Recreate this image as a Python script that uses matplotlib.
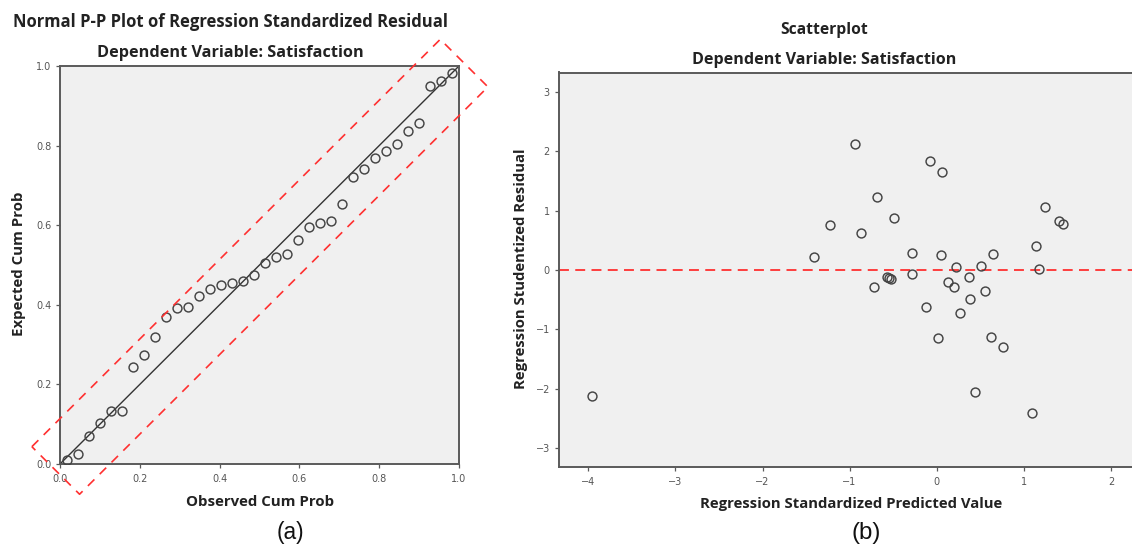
import matplotlib
matplotlib.use("Agg")
import matplotlib.pyplot as plt
import numpy as np

# ---------------- data ----------------
pp_observed = [0.017, 0.044, 0.073, 0.099, 0.128, 0.155, 0.183, 0.211, 0.238, 0.266,
               0.293, 0.321, 0.348, 0.376, 0.404, 0.431, 0.459, 0.486, 0.514, 0.541,
               0.569, 0.596, 0.624, 0.652, 0.679, 0.707, 0.734, 0.762, 0.789, 0.817,
               0.845, 0.872, 0.900, 0.927, 0.955, 0.982]
pp_expected = [0.009, 0.026, 0.070, 0.103, 0.134, 0.134, 0.243, 0.273, 0.318, 0.370,
               0.391, 0.394, 0.422, 0.440, 0.449, 0.454, 0.459, 0.474, 0.505, 0.521,
               0.528, 0.562, 0.596, 0.606, 0.610, 0.654, 0.721, 0.740, 0.770, 0.786,
               0.803, 0.836, 0.858, 0.949, 0.962, 0.982]

sc_predicted = [-0.935, -0.080, 0.057, -0.682, 1.243, -0.487, -1.225, -0.866, 1.408, 1.453,
                1.137, -1.405, -0.284, 0.049, 0.643, 0.218, 0.509, 1.175, -0.287, -0.567,
                -0.544, -0.521, 0.367, -0.716, 0.133, 0.195, 0.558, 0.379, -0.123, 0.264,
                0.015, 0.624, 0.765, 0.440, 1.094, -3.958]
sc_residual = [2.130, 1.843, 1.653, 1.236, 1.057, 0.877, 0.754, 0.624, 0.831, 0.771,
               0.410, 0.219, 0.282, 0.258, 0.275, 0.056, 0.073, 0.012, -0.067, -0.113,
               -0.135, -0.157, -0.118, -0.287, -0.207, -0.282, -0.349, -0.484, -0.619, -0.720,
               -1.152, -1.125, -1.304, -2.057, -2.406, -2.125]

pp_ticks = [0.0, 0.2, 0.4, 0.6, 0.8, 1.0]
pp_ticklabels = ["0.0", "0.2", "0.4", "0.6", "0.8", "1.0"]
sc_xticks = [-4, -3, -2, -1, 0, 1, 2]
sc_yticks = [-3, -2, -1, 0, 1, 2, 3]

# annotation band (offsets of y-x, and extent along x+y)
band_offsets = (-0.125, 0.114)
band_ends = (-0.027, 2.02)

# ---------------- style ----------------
W, H = 1132, 545
fig = plt.figure(figsize=(W / 100, H / 100), dpi=100)
BG = "#f0f0f0"
SPINE = "#5a5a5a"
TICKC = "#555555"
MARK = "#444444"
RED = "#ff3030"
TXT = "#222222"
BOLD_FONT = ["Open Sans", "DejaVu Sans"]


def px_axes(l, t, r, b):
    return fig.add_axes([l / W, 1 - b / H, (r - l) / W, (b - t) / H])


def style_axes(ax):
    ax.set_facecolor(BG)
    for s in ax.spines.values():
        s.set_color(SPINE)
        s.set_linewidth(1.4)
    ax.tick_params(direction="out", length=3.2, width=0.9, color=SPINE,
                   labelsize=7, labelcolor=TICKC, pad=3)


# ---------------- left: P-P plot ----------------
ax1 = px_axes(60, 66, 459, 464)
style_axes(ax1)
ax1.set_xlim(0, 1)
ax1.set_ylim(0, 1)
ax1.set_xticks(pp_ticks)
ax1.set_xticklabels(pp_ticklabels)
ax1.set_yticks(pp_ticks)
ax1.set_yticklabels(pp_ticklabels)
ax1.tick_params(axis="x", pad=4)
ax1.plot([0, 1], [0, 1], color="#333333", lw=1.0, zorder=2)
ax1.plot(pp_observed, pp_expected, linestyle="none", marker="o", ms=6.4,
         mfc="none", mec=MARK, mew=1.05, zorder=3)

d_lo, d_hi = band_offsets
s_lo, s_hi = band_ends
corner_pts = [((s - d) / 2, (s + d) / 2) for s, d in
              [(s_lo, d_hi), (s_hi, d_hi), (s_hi, d_lo), (s_lo, d_lo), (s_lo, d_hi)]]
bx = [p[0] for p in corner_pts]
by = [p[1] for p in corner_pts]
ax1.plot(bx, by, color=RED, lw=1.2, dashes=(5.5, 4.5), clip_on=False, zorder=5)

# ---------------- right: scatterplot ----------------
ax2 = px_axes(558.5, 72.5, W, 467.3)
style_axes(ax2)
ax2.spines["right"].set_visible(False)
x0_px, ux = 936.7, 87.1
y0_px, uy = 270.0, 59.3
ax2.set_xlim((558.5 - x0_px) / ux, (W - x0_px) / ux)
ax2.set_ylim((y0_px - 467.3) / uy, (y0_px - 72.5) / uy)
ax2.set_xticks(sc_xticks)
ax2.set_yticks(sc_yticks)
ax2.tick_params(axis="x", pad=4)
ax2.axhline(0, color=RED, lw=1.3, dashes=(5.5, 3.5), zorder=2)
ax2.plot(sc_predicted, sc_residual, linestyle="none", marker="o", ms=6.4,
         mfc="none", mec=MARK, mew=1.05, zorder=3)

# ---------------- texts fitted to widths ----------------
renderer = fig.canvas.get_renderer()


def fit_text(s, cx, cy, target, rotation=0, weight="bold", family=BOLD_FONT,
             color=TXT, base=10):
    t = fig.text(cx / W, 1 - cy / H, s, ha="center", va="center", rotation=rotation,
                 fontsize=base, fontweight=weight, family=family, color=color)
    bb = t.get_window_extent(renderer)
    size = bb.height if rotation else bb.width
    t.set_fontsize(base * target / size)
    return t


fit_text("Normal P-P Plot of Regression Standardized Residual", 230.5, 22, 435)
fit_text("Dependent Variable: Satisfaction", 230, 53, 266)
fit_text("Observed Cum Prob", 260, 502, 149)
fit_text("Expected Cum Prob", 19, 264, 145, rotation=90)

fit_text("Scatterplot", 824.5, 30.5, 88)
fit_text("Dependent Variable: Satisfaction", 824, 60, 265)
fit_text("Regression Standardized Predicted Value", 851.6, 504, 302)
fit_text("Regression Studentized Residual", 521, 269, 240, rotation=90)

fit_text("(a)", 290, 532, 28, weight="normal", family="Liberation Sans", color="#111111")
fit_text("(b)", 866.3, 533, 29.3, weight="normal", family="Liberation Sans", color="#111111")

fig.savefig("out.png", dpi=100, facecolor="white")
